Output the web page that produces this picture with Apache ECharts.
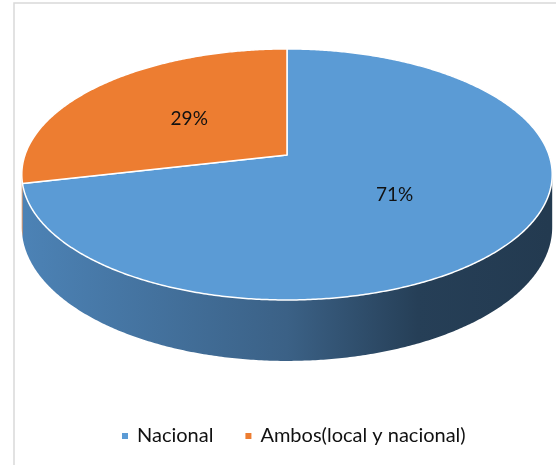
<!DOCTYPE html>
<html>
<head>
<meta charset="utf-8">
<script src="https://cdn.jsdelivr.net/npm/echarts@6/dist/echarts.min.js"></script>
<style>
  html, body { margin: 0; padding: 0; background: #fff; }
  #chart { width: 556px; height: 465px; }
</style>
</head>
<body>
<div id="chart"></div>
<script>
// datos
const categories = ['Nacional', 'Ambos(local y nacional)']
const values = [71.4, 28.6]
const colors = ['#5b9bd5', '#ed7d31']

// geometria del pastel 3D (perspectiva aproximada)
const CX = 287
const CY = 155
const RX = 262
const RY = 122.5
const P = 0.155
const H = 51.5

const total = values.reduce((a, b) => a + b, 0)
const fracs = []
let acc = 0
values.forEach(v => {
  fracs.push([acc / total, (acc + v) / total])
  acc += v
})
const labels = values.map(v => Math.round(v / total * 100) + '%')

function proj (t, r, dz) {
  const d = 1 + P * r * Math.cos(t)
  return [CX + RX * r * Math.sin(t) / d, CY + (-RY * r * Math.cos(t) + dz) / d]
}

function arc (a, b, dz) {
  const pts = []
  const n = Math.max(2, Math.ceil(Math.abs(b - a) / (Math.PI / 360)))
  for (let k = 0; k <= n; k++) pts.push(proj(a + (b - a) * k / n, 1, dz))
  return pts
}

const wallColors = [
  [['#4c82b5', 0], ['#3b6186', 0.5], ['#263f57', 0.75], ['#233a50', 1]],
  [['#c0652a', 0], ['#8a4a1f', 1]]
]

const FRONT0 = Math.acos(-P)
const FRONT1 = 2 * Math.PI - FRONT0

function renderWall (params, api) {
  const a0 = api.value(0) * 2 * Math.PI
  const a1 = api.value(1) * 2 * Math.PI
  const idx = api.value(2)
  const a = Math.max(a0, FRONT0)
  const b = Math.min(a1, FRONT1)
  if (b <= a) return null
  const pts = arc(a, b, 0).concat(arc(b, a, H))
  return {
    type: 'polygon',
    shape: { points: pts },
    style: {
      fill: new echarts.graphic.LinearGradient(CX - RX, 0, CX + RX, 0,
        wallColors[idx].map(s => ({ offset: s[1], color: s[0] })), true)
    }
  }
}

function makeTop (i) {
  return function (params, api) {
    const a0 = api.value(0) * 2 * Math.PI
    const a1 = api.value(1) * 2 * Math.PI
    const pts = [proj(0, 0, 0)].concat(arc(a0, a1, 0))
    const lp = proj((a0 + a1) / 2, 0.5, 0)
    return {
      type: 'group',
      children: [{
        type: 'polygon',
        shape: { points: pts },
        style: { fill: colors[i], stroke: '#fff', lineWidth: 1.5, lineJoin: 'round' }
      }, {
        type: 'text',
        z2: 10,
        style: {
          text: labels[i],
          x: lp[0],
          y: lp[1],
          align: 'center',
          verticalAlign: 'middle',
          font: '19px Lato',
          fill: '#111'
        }
      }]
    }
  }
}

const chart = echarts.init(document.getElementById('chart'))

const series = [{
  type: 'custom',
  name: 'lado',
  coordinateSystem: 'none',
  silent: true,
  z: 1,
  data: fracs.map((f, i) => [f[0], f[1], i]),
  renderItem: renderWall
}]
categories.forEach((c, i) => {
  series.push({
    type: 'custom',
    name: c,
    coordinateSystem: 'none',
    silent: true,
    z: 2,
    itemStyle: { color: colors[i] },
    data: [fracs[i]],
    renderItem: makeTop(i)
  })
})

chart.setOption({
  animation: false,
  graphic: [{
    type: 'rect',
    shape: { x: 14, y: 3, width: 560, height: 480 },
    style: { fill: 'none', stroke: '#d9d9d9', lineWidth: 1.5 },
    silent: true,
    z: 0
  }],
  legend: {
    data: categories,
    left: 117,
    top: 421,
    icon: 'rect',
    itemWidth: 6,
    itemHeight: 6,
    itemGap: 32,
    textStyle: { fontFamily: 'Lato', fontSize: 20, color: '#111', padding: [0, 0, 0, 4] }
  },
  series: series
})
</script>
</body>
</html>
